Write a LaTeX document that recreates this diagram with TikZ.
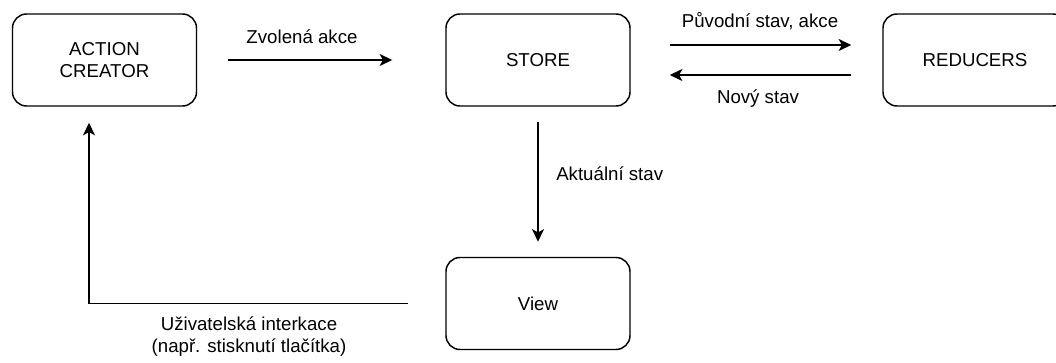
\documentclass[tikz,border=0pt]{standalone}
\usepackage{fontspec}
\setmainfont{Liberation Sans}
\usetikzlibrary{arrows.meta,positioning}

\begin{document}
\begin{tikzpicture}[%
        x=0.75pt, y=-0.75pt,%
        font=\fontsize{14}{16.5}\selectfont,%
        block/.style={draw, line width=1.1pt, rounded corners=10.5pt,%
            minimum width=138pt, minimum height=69pt, align=center},%
        flow/.style={line width=1.1pt,%
            -{Stealth[length=9.5pt, width=9pt, inset=2.5pt]}},%
        flowtext/.style={inner sep=0pt, align=center}%
    ]
    \useasboundingbox (0,0) rectangle (1056,363);%

    %
    % Bloky
    %
    \node[block] (creator) at (104.5,60) {ACTION\\CREATOR};%
    \node[block] (store) at (538,60) {STORE};%
    \node[block] (reducers) at (975,60) {REDUCERS};%
    \node[block] (view) at (538,303.5) {View};%

    %
    % Toky
    %
    % Akce do store
    \draw[flow, shorten <=23.25pt, shorten >=39.75pt] (creator) -- (store);%
    \node[flowtext] (choice text) at (302,37) {Zvolená akce};%

    % Store <-> reducers
    \draw[flow, shorten <=29.25pt, shorten >=23.25pt]%
        ([yshift=11.25pt]store.east) -- ([yshift=11.25pt]reducers.west);%
    \node[flowtext] (old text) at (760,21) {Původní stav, akce};%
    \draw[flow, shorten <=23.25pt, shorten >=29.25pt]%
        ([yshift=-11.25pt]reducers.west) -- ([yshift=-11.25pt]store.east);%
    \node[flowtext] (new text) at (758,99) {Nový stav};%

    % Store do view
    \draw[flow, shorten <=11.25pt, shorten >=11.25pt] (store) -- (view);%
    \node[flowtext, anchor=west] (state text) at (556,174) {Aktuální stav};%

    % Interakce zpet
    \coordinate (turn) at (89,303.5);%
    \draw[flow, shorten <=27.75pt, shorten >=12pt]%
        (view.west) -- (turn) -- (turn |- creator.south);%
    \node[flowtext] (user text) at (249,337) {Uživatelská interkace\\(např. stisknutí tlačítka)};%
\end{tikzpicture}
\end{document}
